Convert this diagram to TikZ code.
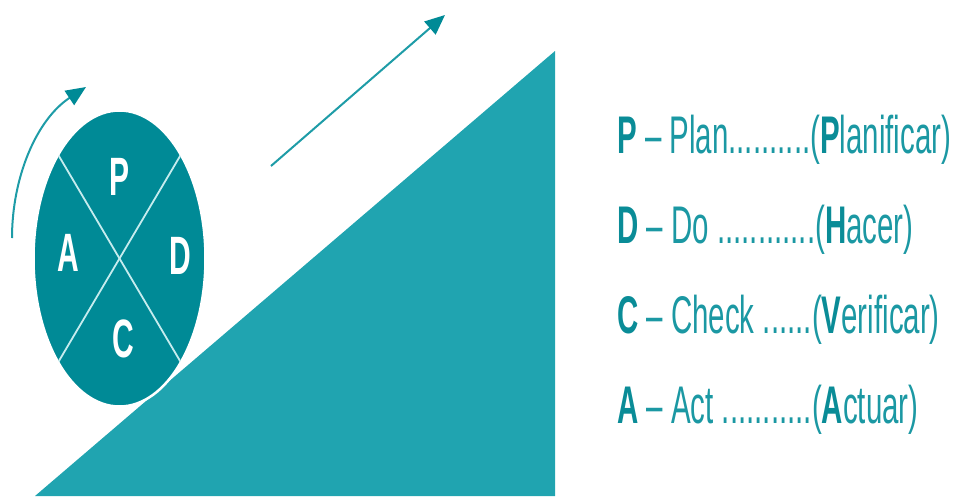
\documentclass[tikz,border=0pt]{standalone}
\usepackage{fontspec}
\usetikzlibrary{arrows.meta,shapes.geometric}
\newfontfamily\narrowsans[FakeStretch=0.556,Ligatures=TeX]{Liberation Sans}
\definecolor{darkteal}{HTML}{008A96}
\definecolor{midteal}{HTML}{20A4B0}
\definecolor{lineteal}{HTML}{1E9CA7}
\definecolor{txtteal}{HTML}{1B98A3}
\definecolor{boldteal}{HTML}{0A8C97}
\definecolor{crossline}{HTML}{C6ECEE}
\tikzset{
  letter/.style={anchor=base, text=white, font=\narrowsans\bfseries\fontsize{54}{54}\selectfont, inner sep=0pt},
  listline/.style={anchor=base west, text=txtteal, font=\narrowsans\fontsize{53}{53}\selectfont, inner sep=0pt},
  arrowline/.style={draw=lineteal, line width=2pt, -{Triangle[length=20pt,width=17pt,fill=darkteal,color=darkteal]}}
}
\newcommand{\bk}[1]{{\bfseries\color{boldteal}#1}}
\begin{document}
\begin{tikzpicture}[x=1pt,y=-1pt]
\useasboundingbox (0,0) rectangle (954,496);
% ramp
\fill[midteal] (35,496) coordinate (r1) -- (555,51) coordinate (r2) -- (555,496) coordinate (r3) -- cycle;
% wheel
\node[ellipse, draw=white, line width=2.5pt, fill=darkteal, minimum width=172pt, minimum height=296pt, inner sep=0pt] (wheel) at (119.5,258.5) {};
\begin{scope}
\clip (119.5,258.5) ellipse [x radius=85pt, y radius=147pt];
\draw[crossline, line width=1.8pt] (119.5,258.5) ++(-72,-121.8) coordinate (c1) -- ++(144,243.6) coordinate (c2);
\draw[crossline, line width=1.8pt] (119.5,258.5) ++(72,-121.8) coordinate (c3) -- ++(-144,243.6) coordinate (c4);
\end{scope}
\node[letter] (lp) at (120,195) {P};
\node[letter] (la) at (68,271) {A};
\node[letter] (ld) at (180,274) {D};
\node[letter] (lc) at (123,357) {C};
% arrows
\coordinate (a1s) at (12,238);
\coordinate (a1e) at (86,87);
\draw[arrowline] (a1s) .. controls (12,178) and (36,120) .. (a1e);
\coordinate (a2s) at (271,166);
\coordinate (a2e) at (445,15);
\draw[arrowline] (a2s) -- (a2e);
% legend
\node[listline] (tp) at (617,153) {\bk{P} – Plan..........(\bk{P}lanificar)};
\node[listline] (td) at (617,243) {\bk{D} – Do ............(\bk{H}acer)};
\node[listline] (tc) at (617,333) {\bk{C} – Check ......(\bk{V}erificar)};
\node[listline] (ta) at (617,423) {\bk{A} – Act ...........(\bk{A}ctuar)};
\end{tikzpicture}
\end{document}
